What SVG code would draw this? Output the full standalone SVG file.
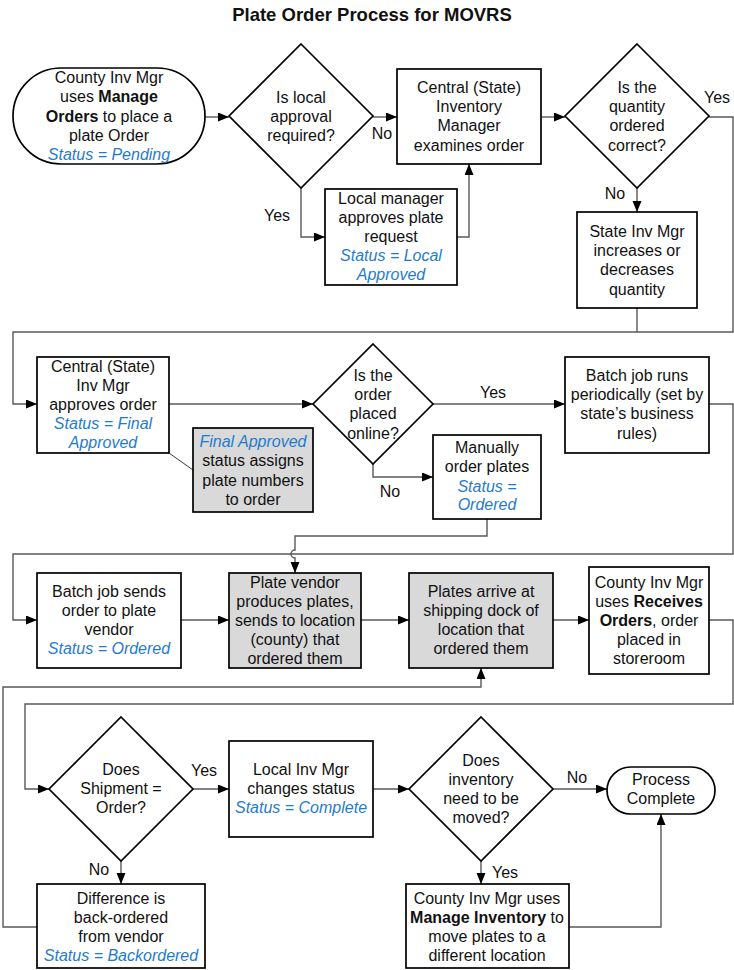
<svg xmlns="http://www.w3.org/2000/svg" width="734" height="970" viewBox="0 0 734 970">
<style>
text{font-family:"Liberation Sans",Arial,sans-serif;font-size:16px;fill:#111;text-anchor:middle}
.title{font-size:18.5px;font-weight:bold}
.b{font-weight:bold}
.s{fill:#1f7bd0;font-style:italic}
.n{fill:#fff;stroke:#000;stroke-width:1.7}
.g{fill:#d9d9d9;stroke:#000;stroke-width:1.7}
.c{fill:none;stroke:#595959;stroke-width:1.4}
.ca{fill:none;stroke:#595959;stroke-width:1.4;marker-end:url(#ah)}
.thin{fill:none;stroke:#222;stroke-width:0.9}
</style>
<defs>
<marker id="ah" markerUnits="userSpaceOnUse" markerWidth="12" markerHeight="10" refX="11" refY="4.5" orient="auto">
<path d="M0,0 L11,4.5 L0,9 z" fill="#000"/>
</marker>
</defs>
<rect width="734" height="970" fill="#fff"/>
<text class="title" x="372" y="21">Plate Order Process for MOVRS</text>

<g id="connectors">
<path class="ca" d="M205,117 H229"/>
<path class="ca" d="M373,117 H397"/>
<path class="ca" d="M541,117 H565"/>
<path class="ca" d="M709,117 H733 V332 H13 V404 H37"/>
<path class="ca" d="M637,188 V212"/>
<path class="c" d="M637,308 V332"/>
<path class="ca" d="M301,188 V237 H325"/>
<path class="ca" d="M457,237 H469 V164"/>
<path class="ca" d="M169,404 H313"/>
<path class="ca" d="M433,404 H565"/>
<path class="ca" d="M373,464 V477 H433"/>
<path class="ca" d="M709,404 H733 V554 H13 V620 H37"/>
<path class="ca" d="M487,519 V536 H295 V550 A4,4 0 0 0 295,558 V573"/>
<path class="thin" d="M169,453 L193,470"/>
<path class="ca" d="M181,620 H229"/>
<path class="ca" d="M361,620 H409"/>
<path class="ca" d="M553,620 H589"/>
<path class="ca" d="M709,620 H733 V704 H25 V789 H49"/>
<path class="ca" d="M37,927 H3 V687 H481 V668"/>
<path class="ca" d="M193,789 H229"/>
<path class="ca" d="M373,789 H409"/>
<path class="ca" d="M553,789 H607"/>
<path class="ca" d="M481,861 V884"/>
<path class="ca" d="M569,927 H661 V814"/>
<path class="ca" d="M121,861 V884"/>
<text x="382" y="139">No</text>
<text x="717" y="103">Yes</text>
<text x="615" y="199">No</text>
<text x="277" y="221">Yes</text>
<text x="493" y="398">Yes</text>
<text x="390" y="497">No</text>
<text x="204" y="776">Yes</text>
<text x="577" y="783">No</text>
<text x="505" y="878">Yes</text>
<text x="99" y="875">No</text>
</g>

<g id="start">
<rect class="n" x="13" y="68" width="192" height="96" rx="48"/>
<text x="109" y="83">County Inv Mgr</text>
<text x="109" y="102">uses <tspan class="b">Manage</tspan></text>
<text x="109" y="122"><tspan class="b">Orders</tspan> to place a</text>
<text x="109" y="141">plate Order</text>
<text x="109" y="160" class="s">Status = Pending</text>
</g>

<g id="local-approval">
<polygon class="n" points="301,44 373,116 301,188 229,116"/>
<text x="301" y="103">Is local</text>
<text x="301" y="122">approval</text>
<text x="301" y="141">required?</text>
</g>

<g id="central-examines">
<rect class="n" x="397" y="69" width="144" height="95"/>
<text x="469" y="93">Central (State)</text>
<text x="469" y="112">Inventory</text>
<text x="469" y="131">Manager</text>
<text x="469" y="151">examines order</text>
</g>

<g id="quantity-correct">
<polygon class="n" points="637,44 709,116 637,188 565,116"/>
<text x="637" y="93">Is the</text>
<text x="637" y="112">quantity</text>
<text x="637" y="131">ordered</text>
<text x="637" y="151">correct?</text>
</g>

<g id="state-adjusts">
<rect class="n" x="577" y="212" width="120" height="96"/>
<text x="637" y="237">State Inv Mgr</text>
<text x="637" y="256">increases or</text>
<text x="637" y="275">decreases</text>
<text x="637" y="295">quantity</text>
</g>

<g id="local-approves">
<rect class="n" x="325" y="189" width="132" height="96"/>
<text x="391" y="204">Local manager</text>
<text x="391" y="223">approves plate</text>
<text x="391" y="242">request</text>
<text x="391" y="261" class="s">Status = Local</text>
<text x="391" y="280" class="s">Approved</text>
</g>

<g id="central-approves">
<rect class="n" x="37" y="357" width="132" height="96"/>
<text x="103" y="372">Central (State)</text>
<text x="103" y="391">Inv Mgr</text>
<text x="103" y="410">approves order</text>
<text x="103" y="429" class="s">Status = Final</text>
<text x="103" y="448" class="s">Approved</text>
</g>

<g id="note-final-approved">
<rect class="g" x="193" y="428" width="120" height="84"/>
<text x="253" y="447" class="s">Final Approved</text>
<text x="253" y="466">status assigns</text>
<text x="253" y="486">plate numbers</text>
<text x="253" y="505">to order</text>
</g>

<g id="placed-online">
<polygon class="n" points="373,344 433,404 373,464 313,404"/>
<text x="373" y="381">Is the</text>
<text x="373" y="400">order</text>
<text x="373" y="419">placed</text>
<text x="373" y="439">online?</text>
</g>

<g id="batch-runs">
<rect class="n" x="565" y="357" width="144" height="96"/>
<text x="637" y="381">Batch job runs</text>
<text x="637" y="400">periodically (set by</text>
<text x="637" y="419">state’s business</text>
<text x="637" y="439">rules)</text>
</g>

<g id="manual-order">
<rect class="n" x="433" y="435" width="108" height="84"/>
<text x="487" y="453">Manually</text>
<text x="487" y="472">order plates</text>
<text x="487" y="492" class="s">Status =</text>
<text x="487" y="510" class="s">Ordered</text>
</g>

<g id="batch-sends">
<rect class="n" x="37" y="573" width="144" height="95"/>
<text x="109" y="597">Batch job sends</text>
<text x="109" y="616">order to plate</text>
<text x="109" y="635">vendor</text>
<text x="109" y="654" class="s">Status = Ordered</text>
</g>

<g id="vendor-produces">
<rect class="g" x="229" y="573" width="132" height="95"/>
<text x="295" y="588">Plate vendor</text>
<text x="295" y="607">produces plates,</text>
<text x="295" y="626">sends to location</text>
<text x="295" y="645">(county) that</text>
<text x="295" y="664">ordered them</text>
</g>

<g id="plates-arrive">
<rect class="g" x="409" y="573" width="144" height="95"/>
<text x="481" y="597">Plates arrive at</text>
<text x="481" y="616">shipping dock of</text>
<text x="481" y="635">location that</text>
<text x="481" y="654">ordered them</text>
</g>

<g id="receives-orders">
<rect class="n" x="589" y="567" width="120" height="107"/>
<text x="649" y="588">County Inv Mgr</text>
<text x="649" y="607">uses <tspan class="b">Receives</tspan></text>
<text x="649" y="626"><tspan class="b">Orders</tspan>, order</text>
<text x="649" y="645">placed in</text>
<text x="649" y="664">storeroom</text>
</g>

<g id="shipment-order">
<polygon class="n" points="121,717 193,789 121,861 49,789"/>
<text x="121" y="775">Does</text>
<text x="121" y="794">Shipment =</text>
<text x="121" y="813">Order?</text>
</g>

<g id="status-complete">
<rect class="n" x="229" y="741" width="144" height="96"/>
<text x="301" y="775">Local Inv Mgr</text>
<text x="301" y="794">changes status</text>
<text x="301" y="813" class="s">Status = Complete</text>
</g>

<g id="move-inventory">
<polygon class="n" points="481,717 553,789 481,861 409,789"/>
<text x="481" y="766">Does</text>
<text x="481" y="785">inventory</text>
<text x="481" y="804">need to be</text>
<text x="481" y="823">moved?</text>
</g>

<g id="process-complete">
<rect class="n" x="607" y="767" width="108" height="47" rx="23.5"/>
<text x="661" y="785">Process</text>
<text x="661" y="804">Complete</text>
</g>

<g id="manage-inventory">
<rect class="n" x="406" y="884" width="163" height="84"/>
<text x="487" y="904">County Inv Mgr uses</text>
<text x="487" y="923"><tspan class="b">Manage Inventory</tspan> to</text>
<text x="487" y="942">move plates to a</text>
<text x="487" y="961">different location</text>
</g>

<g id="backordered">
<rect class="n" x="37" y="884" width="168" height="84"/>
<text x="121" y="904">Difference is</text>
<text x="121" y="923">back-ordered</text>
<text x="121" y="942">from vendor</text>
<text x="121" y="961" class="s">Status = Backordered</text>
</g>
</svg>
